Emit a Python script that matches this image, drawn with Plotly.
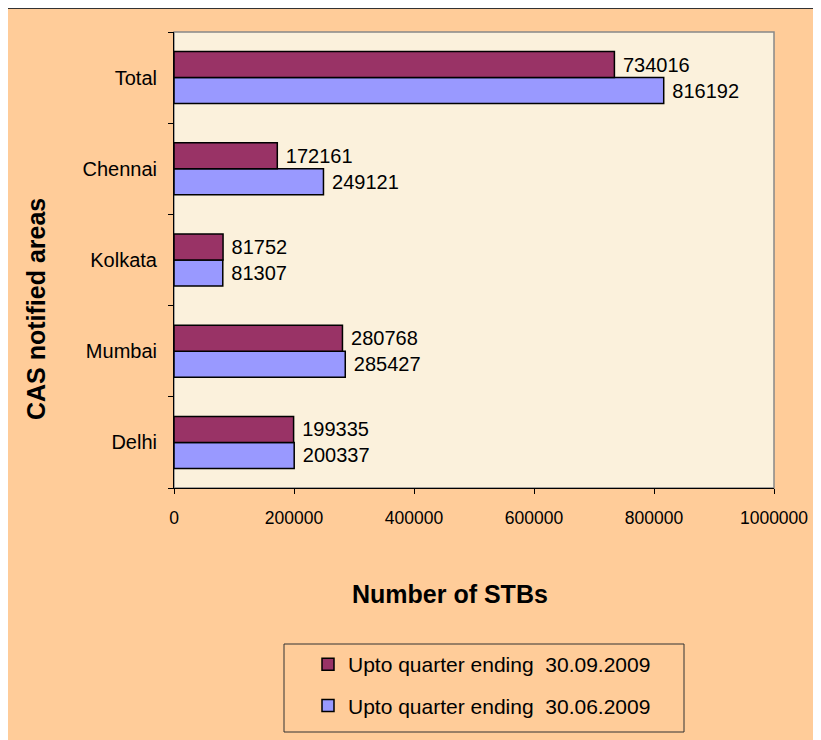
import plotly.graph_objects as go

categories = ["Delhi", "Mumbai", "Kolkata", "Chennai", "Total"]
q_sep = [199335, 280768, 81752, 172161, 734016]
q_jun = [200337, 285427, 81307, 249121, 816192]
name_sep = "Upto quarter ending\u00a0\u00a030.09.2009"
name_jun = "Upto quarter ending\u00a0\u00a030.06.2009"
x_ticks = [0, 200000, 400000, 600000, 800000, 1000000]
x_title = "Number of STBs"
y_title = "CAS notified areas"

FONT = "Liberation Sans, Arial, sans-serif"
OFF = 8  # page body margin
W, H = 821 - OFF, 740 - OFF
L, R, T, B = 174 - OFF, 774 - OFF, 32 - OFF, 488 - OFF

def px(x):
    # page x -> paper x
    return (x - OFF - L) / (R - L)

def py(y):
    # page y -> paper y
    return (B - (y - OFF)) / (B - T)

fig = go.Figure()
fig.add_trace(go.Bar(
    y=categories, x=q_jun, orientation="h", name=name_jun,
    marker=dict(color="#9999FF", line=dict(color="black", width=1.5)),
    text=["\u00a0" + str(v) for v in q_jun], textposition="outside",
    textfont=dict(size=20, color="black", family=FONT),
    cliponaxis=False, legendgroup="b", legendrank=2,
))
fig.add_trace(go.Bar(
    y=categories, x=q_sep, orientation="h", name=name_sep,
    marker=dict(color="#993366", line=dict(color="black", width=1.5)),
    text=["\u00a0" + str(v) for v in q_sep], textposition="outside",
    textfont=dict(size=20, color="black", family=FONT),
    cliponaxis=False, legendgroup="a", legendrank=1,
))

shapes = [
    # outer peach frame
    dict(type="rect", xref="paper", yref="paper",
         x0=px(5), x1=px(835), y0=py(8), y1=py(760),
         fillcolor="#FFCC99", line=dict(color="#333333", width=2), layer="below"),
    # plot area background and border
    dict(type="rect", xref="paper", yref="paper",
         x0=0, x1=1, y0=0, y1=1,
         fillcolor="#FBF1DC", line=dict(color="#888888", width=1.5), layer="below"),
    # legend box
    dict(type="rect", xref="paper", yref="paper",
         x0=px(284), x1=px(684), y0=py(644), y1=py(732),
         fillcolor="rgba(0,0,0,0)", line=dict(color="#333333", width=1), layer="above"),
]

annotations = [
    dict(text="<b>" + x_title + "</b>", xref="paper", yref="paper",
         x=px(450), y=py(594), xanchor="center", yanchor="middle",
         showarrow=False, font=dict(size=25, family=FONT, color="black")),
    dict(text="<b>" + y_title + "</b>", xref="paper", yref="paper",
         x=px(36), y=py(309), xanchor="center", yanchor="middle", textangle=-90,
         showarrow=False, font=dict(size=25, family=FONT, color="black")),
]

fig.update_layout(
    width=W, height=H,
    margin=dict(l=L, r=W - R, t=T, b=H - B, pad=0),
    paper_bgcolor="#FFCC99",
    plot_bgcolor="rgba(0,0,0,0)",
    font=dict(family=FONT, color="black", size=17),
    barmode="group",
    bargap=0.43,
    bargroupgap=0.0,
    showlegend=True,
    legend=dict(
        x=px(308), y=py(644), xanchor="left", yanchor="top",
        bgcolor="rgba(0,0,0,0)", borderwidth=0,
        font=dict(size=21, family=FONT, color="black"),
        traceorder="grouped", tracegroupgap=11,
        itemwidth=30,
    ),
    shapes=shapes,
    annotations=annotations,
    xaxis=dict(
        range=[0, 1000000], tickvals=x_ticks, ticktext=[str(v) for v in x_ticks],
        showgrid=False, zeroline=False, showline=True, linecolor="black", linewidth=1,
        ticks="outside", ticklen=5, tickcolor="black", ticklabelstandoff=9,
        tickfont=dict(size=17.5, family=FONT),
        automargin=False,
    ),
    yaxis=dict(
        showgrid=False, zeroline=False, showline=True, linecolor="black", linewidth=1,
        ticks="outside", ticklen=5, tickcolor="black", tickson="boundaries",
        tickfont=dict(size=20, family=FONT), ticklabelstandoff=12,
        automargin=False,
    ),
)

fig.write_html("out.html")
